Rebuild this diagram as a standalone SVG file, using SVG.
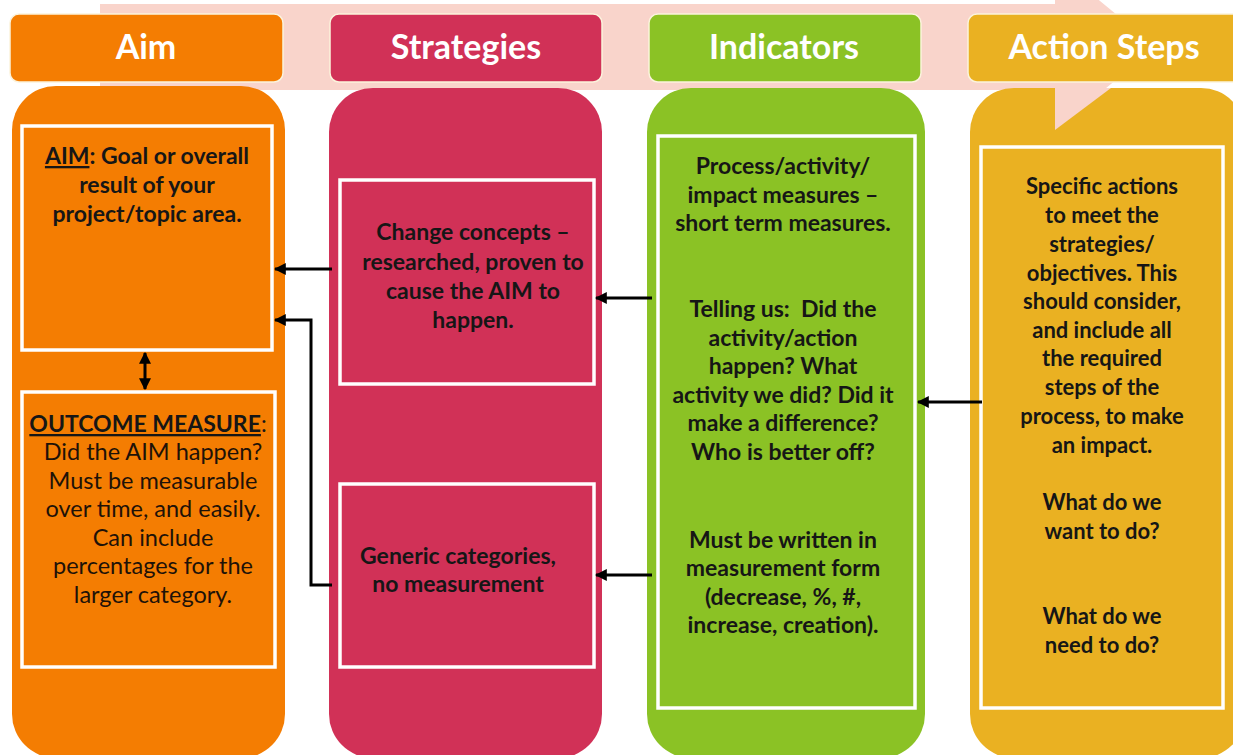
<svg xmlns="http://www.w3.org/2000/svg" width="1233" height="755" viewBox="0 0 1233 755">
<defs>
<marker id="ah" viewBox="0 0 10 10" refX="9" refY="5" markerWidth="4" markerHeight="4" markerUnits="strokeWidth" orient="auto-start-reverse">
<path d="M0,0 L10,5 L0,10 z" fill="#000"/>
</marker>
</defs>
<style>
.hdr{stroke:#fbf3dc;stroke-width:1.5}
.ht{font-family:Lato,"Open Sans",sans-serif;font-weight:700;font-size:34px;fill:#fff;text-anchor:middle}
.box{stroke:#fff;stroke-width:3.5}
.t{font-family:Lato,"Open Sans",sans-serif;font-weight:700;font-size:23px;fill:#161616;text-anchor:middle}
.s{font-size:22px}
.r{font-family:Lato,"Open Sans",sans-serif;font-weight:400;font-size:23.5px;fill:#1e1208;text-anchor:middle}
.ln{stroke:#000;stroke-width:3;fill:none}
.orange{fill:#f47d02}
.red{fill:#d13157}
.green{fill:#8bc225}
.gold{fill:#eab122}
</style>
<rect width="1233" height="755" fill="#fff"/>
<g id="flow-arrow">
<path d="M100,4 L1055,4 L1055,-36 L1156,47 L1055,130 L1055,90 L100,90 Z" fill="#f9d4cb"/>
</g>
<g id="aim">
<rect class="hdr orange" x="10" y="14" width="273" height="68" rx="9"/>
<text class="ht" x="146" y="59">Aim</text>
<rect class="orange" x="12" y="86" width="273" height="672" rx="44"/>
<rect class="box orange" x="22" y="126" width="250" height="224"/>
<text class="t" x="147" y="164"><tspan text-decoration="underline">AIM</tspan>: Goal or overall</text>
<text class="t" x="147" y="193">result of your</text>
<text class="t" x="147" y="222">project/topic area.</text>
<rect class="box orange" x="22" y="392" width="253" height="275"/>
<text class="t" x="148" y="432"><tspan text-decoration="underline">OUTCOME MEASURE</tspan><tspan font-weight="400">:</tspan></text>
<text class="r" x="153" y="460">Did the AIM happen?</text>
<text class="r" x="153" y="489">Must be measurable</text>
<text class="r" x="153" y="517">over time, and easily.</text>
<text class="r" x="153" y="546">Can include</text>
<text class="r" x="153" y="574">percentages for the</text>
<text class="r" x="153" y="603">larger category.</text>
</g>
<g id="strategies">
<rect class="hdr red" x="330" y="14" width="272" height="68" rx="9"/>
<text class="ht" x="466" y="59">Strategies</text>
<rect class="red" x="329" y="88" width="273" height="670" rx="44"/>
<rect class="box red" x="340" y="180" width="254" height="204"/>
<text class="t" x="473" y="240">Change concepts –</text>
<text class="t" x="473" y="270">researched, proven to</text>
<text class="t" x="473" y="299">cause the AIM to</text>
<text class="t" x="473" y="328">happen.</text>
<rect class="box red" x="340" y="484" width="254" height="183"/>
<text class="t" x="458" y="564">Generic categories,</text>
<text class="t" x="458" y="592">no measurement</text>
</g>
<g id="indicators">
<rect class="hdr green" x="649" y="14" width="272" height="68" rx="9"/>
<text class="ht" x="784" y="59">Indicators</text>
<rect class="green" x="647" y="88" width="278" height="670" rx="44"/>
<rect class="box green" x="658" y="136" width="257" height="572"/>
<text class="t" x="783" y="174">Process/activity/</text>
<text class="t" x="783" y="203">impact measures –</text>
<text class="t" x="783" y="231">short term measures.</text>
<text class="t" x="783" y="317" xml:space="preserve">Telling us:  Did the</text>
<text class="t" x="783" y="346">activity/action</text>
<text class="t" x="783" y="374">happen? What</text>
<text class="t" x="783" y="403">activity we did? Did it</text>
<text class="t" x="783" y="431">make a difference?</text>
<text class="t" x="783" y="460">Who is better off?</text>
<text class="t" x="783" y="548">Must be written in</text>
<text class="t" x="783" y="576">measurement form</text>
<text class="t" x="783" y="605">(decrease, %, #,</text>
<text class="t" x="783" y="633">increase, creation).</text>
</g>
<g id="action-steps">
<rect class="gold" x="970" y="88" width="275" height="670" rx="44"/>
<path d="M1055,88 L1111,88 L1055,130 Z" fill="#f9d4cb"/>
<rect class="hdr gold" x="968" y="14" width="275" height="68" rx="9"/>
<text class="ht" x="1104" y="59">Action Steps</text>
<rect class="box gold" x="981" y="147" width="242" height="561"/>
<text class="t s" x="1102" y="194">Specific actions</text>
<text class="t s" x="1102" y="223">to meet the</text>
<text class="t s" x="1102" y="252">strategies/</text>
<text class="t s" x="1102" y="281">objectives. This</text>
<text class="t s" x="1102" y="309">should consider,</text>
<text class="t s" x="1102" y="338">and include all</text>
<text class="t s" x="1102" y="366">the required</text>
<text class="t s" x="1102" y="395">steps of the</text>
<text class="t s" x="1102" y="424">process, to make</text>
<text class="t s" x="1102" y="453">an impact.</text>
<text class="t s" x="1102" y="510">What do we</text>
<text class="t s" x="1102" y="539">want to do?</text>
<text class="t s" x="1102" y="624">What do we</text>
<text class="t s" x="1102" y="653">need to do?</text>
</g>
<g id="connectors">
<path class="ln" d="M332,269 L275,269" marker-end="url(#ah)"/>
<path class="ln" d="M332,585 L311,585 L311,320 L275,320" marker-end="url(#ah)"/>
<path class="ln" d="M145,353 L145,389" marker-start="url(#ah)" marker-end="url(#ah)"/>
<path class="ln" d="M652,298 L596,298" marker-end="url(#ah)"/>
<path class="ln" d="M652,575 L596,575" marker-end="url(#ah)"/>
<path class="ln" d="M982,402 L918,402" marker-end="url(#ah)"/>
</g>
</svg>
